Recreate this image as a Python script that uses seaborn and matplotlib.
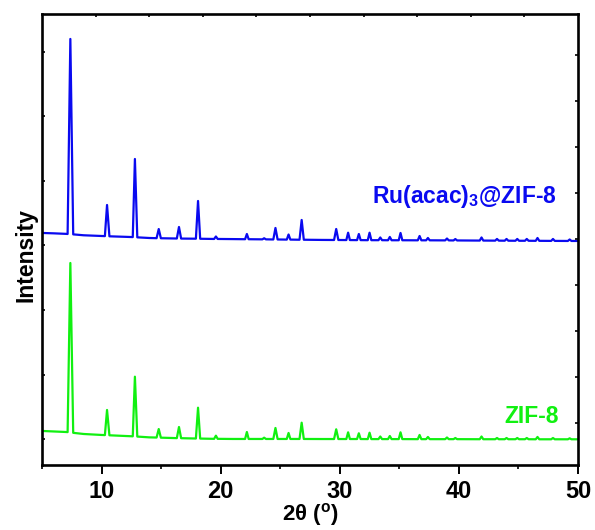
import matplotlib
matplotlib.use("Agg")
import matplotlib.pyplot as plt
import seaborn as sns
import pandas as pd
import numpy as np

# ---------------- data ----------------
two_theta = [
    5.0, 6.0, 7.0,
    7.15, 7.38, 7.62,
    8.5, 10.0,
    10.28, 10.46, 10.66,
    12.0,
    12.62, 12.8, 13.0,
    14.0,
    14.62, 14.8, 14.98,
    16.32, 16.5, 16.68,
    17.92, 18.1, 18.28,
    19.45, 19.6, 19.75,
    21.0,
    22.05, 22.2, 22.35,
    23.5, 23.65, 23.8,
    24.42, 24.6, 24.78,
    25.55, 25.7, 25.85,
    26.62, 26.8, 26.98,
    28.5,
    29.52, 29.7, 29.88,
    30.55, 30.7, 30.85,
    31.45, 31.6, 31.75,
    32.35, 32.5, 32.65,
    33.25, 33.4, 33.55,
    34.05, 34.2, 34.35,
    34.95, 35.1, 35.25,
    36.55, 36.7, 36.85,
    37.25, 37.4, 37.55,
    38.85, 39.0, 39.15,
    39.55, 39.7, 39.85,
    41.75, 41.9, 42.05,
    43.05, 43.2, 43.35,
    43.85, 44.0, 44.15,
    44.75, 44.9, 45.05,
    45.55, 45.7, 45.85,
    46.45, 46.6, 46.75,
    47.75, 47.9, 48.05,
    49.15, 49.3, 49.45,
    50.0,
]

ru_zif8 = [
    3194, 3188, 3180,
    3178, 6197, 3172,
    3158, 3147,
    3145, 3627, 3142,
    3134,
    3130, 4339, 3126,
    3116,
    3113, 3255, 3112,
    3108, 3286, 3107,
    3105, 3689, 3104,
    3101, 3139, 3101,
    3099,
    3097, 3178, 3097,
    3095, 3112, 3095,
    3093, 3271, 3093,
    3091, 3170, 3091,
    3089, 3395, 3089,
    3086,
    3085, 3255, 3085,
    3084, 3198, 3084,
    3083, 3178, 3083,
    3082, 3198, 3082,
    3082, 3124, 3082,
    3081, 3132, 3081,
    3081, 3194, 3081,
    3080, 3147, 3080,
    3080, 3116, 3080,
    3079, 3108, 3079,
    3078, 3100, 3078,
    3076, 3124, 3076,
    3075, 3101, 3075,
    3074, 3101, 3074,
    3073, 3101, 3073,
    3073, 3101, 3073,
    3072, 3116, 3072,
    3071, 3101, 3071,
    3070, 3093, 3070,
    3070,
]

zif8 = [
    129, 121, 113,
    111, 2729, 100,
    82, 67,
    65, 454, 62,
    51,
    46, 969, 42,
    30,
    27, 159, 25,
    18, 190, 17,
    12, 489, 11,
    7, 56, 7,
    5,
    5, 113, 5,
    5, 25, 5,
    5, 175, 5,
    5, 98, 5,
    5, 257, 5,
    4,
    4, 155, 4,
    4, 108, 4,
    4, 93, 4,
    3, 102, 3,
    3, 43, 3,
    3, 51, 3,
    3, 108, 3,
    2, 67, 2,
    2, 36, 2,
    2, 28, 2,
    2, 20, 2,
    1, 43, 1,
    1, 20, 1,
    1, 20, 1,
    1, 20, 1,
    1, 20, 1,
    0, 36, 0,
    0, 20, 0,
    0, 15, 0,
    0,
]

series_names = ["Ru(acac)$_3$@ZIF-8", "ZIF-8"]
series_colors = ["#0a0af0", "#11f011"]
x_ticks = [10, 20, 30, 40, 50]
x_minor = [5, 15, 25, 35, 45]
y_ticks = [0, 1000, 2000, 3000, 4000, 5000, 6000]

# ---------------- style ----------------
sns.set_style("ticks")
plt.rcParams["font.family"] = ["Liberation Sans", "DejaVu Sans"]
plt.rcParams["font.weight"] = "bold"
plt.rcParams["mathtext.fontset"] = "custom"
plt.rcParams["mathtext.rm"] = "Liberation Sans:bold"
plt.rcParams["mathtext.it"] = "Liberation Sans:bold"
plt.rcParams["mathtext.bf"] = "Liberation Sans:bold"
plt.rcParams["axes.edgecolor"] = "black"
plt.rcParams["axes.labelcolor"] = "black"
plt.rcParams["text.color"] = "black"
plt.rcParams["xtick.color"] = "black"
plt.rcParams["ytick.color"] = "black"

df = pd.DataFrame({
    "two_theta": two_theta * 2,
    "intensity": ru_zif8 + zif8,
    "sample": [series_names[0]] * len(two_theta) + [series_names[1]] * len(two_theta),
})

fig = plt.figure(figsize=(5.95, 5.30), dpi=100)
ax = fig.add_axes([42 / 595, 1 - 465 / 530, 536 / 595, 451.5 / 530])

sns.lineplot(data=df, x="two_theta", y="intensity", hue="sample",
             palette=series_colors, estimator=None, sort=False,
             linewidth=1.6, legend=False, ax=ax)

ax.set_xlim(5, 50)
ax.set_ylim(-398, 6591)
ax.set_xticks(x_ticks)
ax.set_xticks(x_minor, minor=True)
ax.set_yticks(y_ticks)
ax.set_yticklabels([])
ax.tick_params(axis="x", which="major", direction="out", length=6.5, width=1.4,
               labelsize=17, pad=4, top=False, colors="black")
ax.tick_params(axis="x", which="minor", direction="out", length=3, width=1.2, top=False,
               colors="black")
ax.tick_params(axis="y", which="major", direction="in", length=2.5, width=1.2, right=False,
               colors="black")
for lab in ax.get_xticklabels():
    lab.set_fontweight("bold")

for sp in ax.spines.values():
    sp.set_linewidth(1.9)
    sp.set_color("black")
    sp.set_visible(True)

ax.set_xlabel("2θ ($\\mathregular{^o}$)", fontsize=16, fontweight="bold", labelpad=-1,
              color="black")
ax.set_ylabel("Intensity", fontsize=16.5, fontweight="bold", color="black")
ax.yaxis.set_label_coords(-0.008, 0.466)

# decorative tick marks on the top and right frame
axt = ax.twiny()
axt.set_xlim(0, 1)
axt.set_xticks([0.1 * k for k in range(1, 10)])
axt.tick_params(axis="x", direction="in", length=2.5, width=1.2, labeltop=False,
                colors="black")
axr = ax.twinx()
axr.set_ylim(0, 1)
axr.set_yticks([0.5 + 0.1018 * k for k in range(-4, 5)])
axr.tick_params(axis="y", direction="in", length=2.5, width=1.2, labelright=False,
                colors="black")
for a in (axt, axr):
    for sp in a.spines.values():
        sp.set_visible(False)

ax.text(48.24, 3658, series_names[0], color=series_colors[0], fontsize=16.5,
        fontweight="bold", ha="right", va="baseline")
ax.text(48.4, 257, series_names[1], color=series_colors[1], fontsize=16.5,
        fontweight="bold", ha="right", va="baseline")

fig.savefig("out.png", dpi=100)
